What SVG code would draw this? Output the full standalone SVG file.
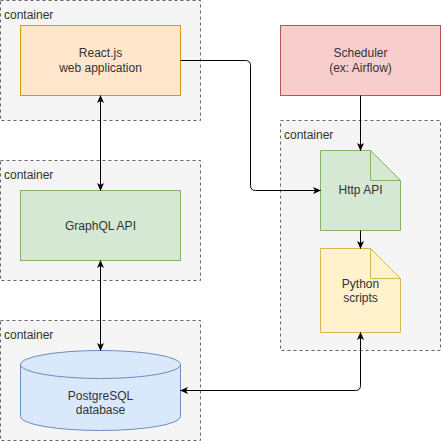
<svg xmlns="http://www.w3.org/2000/svg" width="441" height="441" viewBox="0 0 441 441">
<defs>
<style>
text{font-family:"Liberation Sans",Arial,sans-serif;font-size:12px;fill:#333333}
.ctr{fill:#f5f5f5;stroke:#666666;stroke-dasharray:3 3}
.lbl{text-anchor:start}
.c{text-anchor:middle}
.edge{fill:none;stroke:#000000;stroke-width:1}
</style>
<marker id="arr" viewBox="0 0 8 7" refX="7.5" refY="3.5" markerWidth="8" markerHeight="7" markerUnits="userSpaceOnUse" orient="auto-start-reverse">
<path d="M0,0 L8,3.5 L0,7 L2,3.5 Z" fill="#000000"/>
</marker>
</defs>
<rect width="441" height="441" fill="#ffffff"/>
<g id="container1">
<rect class="ctr" x="0.5" y="0.5" width="200" height="120"/>
<text class="lbl" x="4" y="19">container</text>
</g>
<g id="container2">
<rect class="ctr" x="0.5" y="160.5" width="200" height="120"/>
<text class="lbl" x="4" y="179">container</text>
</g>
<g id="container3">
<rect class="ctr" x="0.5" y="320.5" width="200" height="120"/>
<text class="lbl" x="4" y="339">container</text>
</g>
<g id="container4">
<rect class="ctr" x="280.5" y="120.5" width="160" height="230"/>
<text class="lbl" x="284" y="139">container</text>
</g>
<g id="react">
<rect x="20.5" y="25.5" width="160" height="70" fill="#ffe6cc" stroke="#d79b00"/>
<text class="c" x="100.5" y="57">React.js</text>
<text class="c" x="100.5" y="72">web application</text>
</g>
<g id="graphql">
<rect x="20.5" y="190.5" width="160" height="70" fill="#d5e8d4" stroke="#82b366"/>
<text class="c" x="100.5" y="230">GraphQL API</text>
</g>
<g id="postgres">
<path d="M20.5,364.5 A80,14 0 0 1 180.5,364.5 L180.5,416.5 A80,14 0 0 1 20.5,416.5 Z" fill="#dae8fc" stroke="#6c8ebf"/>
<path d="M20.5,364.5 A80,14 0 0 0 180.5,364.5" fill="none" stroke="#6c8ebf"/>
<text class="c" x="100.5" y="400">PostgreSQL</text>
<text class="c" x="100.5" y="414">database</text>
</g>
<g id="scheduler">
<rect x="280.5" y="25.5" width="160" height="70" fill="#f8cecc" stroke="#b85450"/>
<text class="c" x="360.5" y="57">Scheduler</text>
<text class="c" x="360.5" y="72">(ex: Airflow)</text>
</g>
<g id="httpapi">
<path d="M320.5,150.5 L370.5,150.5 L400.5,180.5 L400.5,230.5 L320.5,230.5 Z" fill="#d5e8d4" stroke="#82b366"/>
<path d="M370.5,150.5 L370.5,180.5 L400.5,180.5" fill="none" stroke="#82b366"/>
<text class="c" x="360.5" y="194">Http API</text>
</g>
<g id="python">
<path d="M320.5,248.5 L370.5,248.5 L400.5,278.5 L400.5,332.5 L320.5,332.5 Z" fill="#fff2cc" stroke="#d6b656"/>
<path d="M370.5,248.5 L370.5,278.5 L400.5,278.5" fill="none" stroke="#d6b656"/>
<text class="c" x="360.5" y="288">Python</text>
<text class="c" x="360.5" y="302">scripts</text>
</g>
<g id="connectors">
<path class="edge" d="M180.5,60.5 L245.5,60.5 Q250.5,60.5 250.5,65.5 L250.5,185.5 Q250.5,190.5 255.5,190.5 L320.5,190.5" marker-end="url(#arr)"/>
<path class="edge" d="M100.5,95.5 L100.5,190.5" marker-start="url(#arr)" marker-end="url(#arr)"/>
<path class="edge" d="M100.5,260.5 L100.5,350.5" marker-start="url(#arr)" marker-end="url(#arr)"/>
<path class="edge" d="M360.5,95.5 L360.5,150.5" marker-end="url(#arr)"/>
<path class="edge" d="M360.5,230.5 L360.5,248.5" marker-end="url(#arr)"/>
<path class="edge" d="M180.5,390.5 L355.5,390.5 Q360.5,390.5 360.5,385.5 L360.5,332.5" marker-start="url(#arr)" marker-end="url(#arr)"/>
</g>
</svg>
